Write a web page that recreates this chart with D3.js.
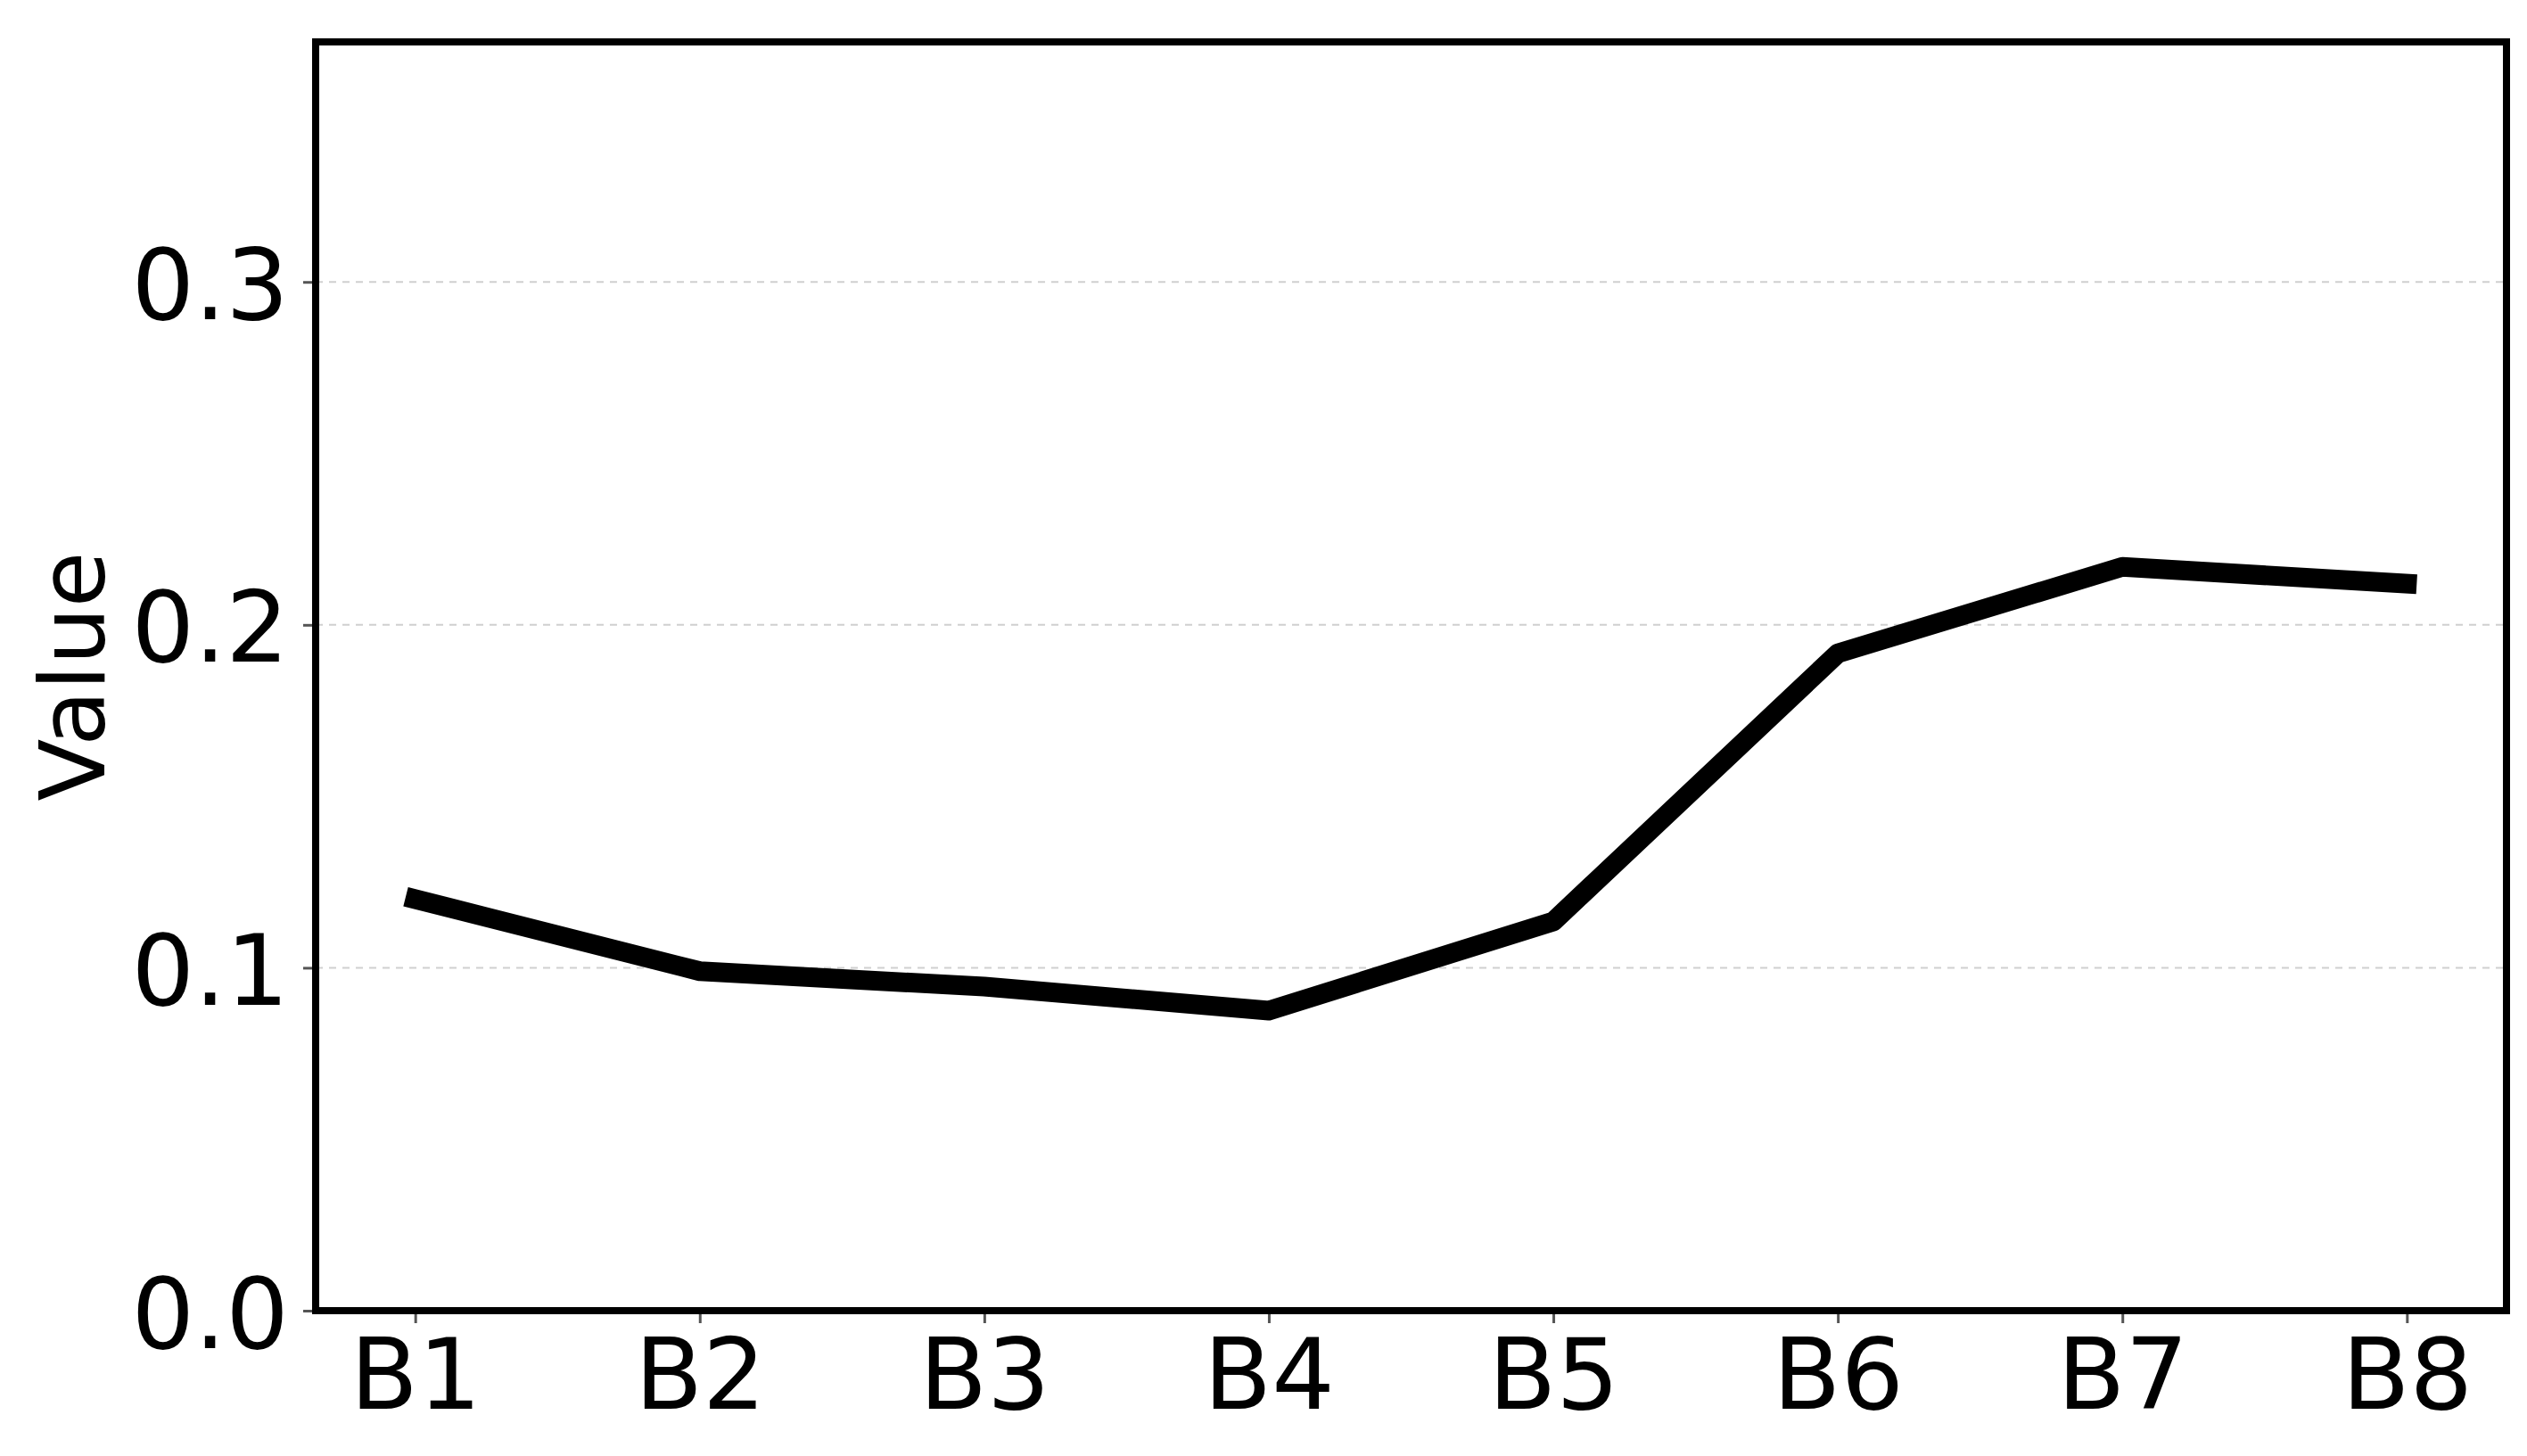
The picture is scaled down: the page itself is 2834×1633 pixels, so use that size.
<!DOCTYPE html>
<html>
<head>
<meta charset="utf-8">
<script src="https://cdn.jsdelivr.net/npm/d3@7"></script>
<style>
  html, body { margin: 0; padding: 0; background: #fff; }
  svg { display: block; }
  text { font-family: "DejaVu Sans", sans-serif; fill: #000; }
</style>
</head>
<body>
<script>
const categories = ["B1", "B2", "B3", "B4", "B5", "B6", "B7", "B8"];
const values = [0.120, 0.099, 0.0945, 0.0875, 0.1135, 0.1917, 0.2169, 0.212];
const yTicks = [0.0, 0.1, 0.2, 0.3];
const gridTicks = [0.1, 0.2, 0.3];
const yLabel = "Value";

const W = 2834, H = 1633;
const plotL = 354, plotR = 2811, plotT = 47, plotB = 1470;

const svg = d3.select("body").append("svg")
  .attr("width", W).attr("height", H);
svg.append("rect").attr("width", W).attr("height", H).attr("fill", "#fff");

const x = d3.scaleLinear().domain([-0.35, categories.length - 1 + 0.35]).range([plotL, plotR]);
const y = d3.scaleLinear().domain([0, 0.37]).range([plotB, plotT]);

// grid
svg.append("g").selectAll("line").data(gridTicks).join("line")
  .attr("x1", plotL).attr("x2", plotR)
  .attr("y1", d => y(d)).attr("y2", d => y(d))
  .attr("stroke", "#d0d0d0").attr("stroke-width", 2)
  .attr("stroke-dasharray", "8,7");

// line
const line = d3.line().x((d, i) => x(i)).y(d => y(d));
svg.append("path").datum(values)
  .attr("d", line)
  .attr("fill", "none")
  .attr("stroke", "#000")
  .attr("stroke-width", 22)
  .attr("stroke-linecap", "square")
  .attr("stroke-linejoin", "round");

// y axis
const yAxis = svg.append("g").attr("transform", `translate(${plotL},0)`)
  .call(d3.axisLeft(y).tickValues(yTicks).tickFormat(d3.format(".1f")).tickSize(14).tickPadding(16));
yAxis.select(".domain").remove();
yAxis.selectAll(".tick line").attr("stroke", "#555").attr("stroke-width", 3);
yAxis.selectAll(".tick text").attr("font-size", 111).attr("dy", "0.37em")
  .attr("fill", "#000")
  .style("font-family", "'DejaVu Sans', sans-serif");

// x axis
const xAxis = svg.append("g").attr("transform", `translate(0,${plotB})`)
  .call(d3.axisBottom(x).tickValues(d3.range(categories.length)).tickFormat(i => categories[i]).tickSize(14));
xAxis.select(".domain").remove();
xAxis.selectAll(".tick line").attr("stroke", "#555").attr("stroke-width", 3);
xAxis.selectAll(".tick text").attr("font-size", 111).attr("y", 110).attr("dy", "0")
  .attr("fill", "#000")
  .style("font-family", "'DejaVu Sans', sans-serif");

// frame
svg.append("rect")
  .attr("x", plotL).attr("y", plotT)
  .attr("width", plotR - plotL).attr("height", plotB - plotT)
  .attr("fill", "none").attr("stroke", "#000").attr("stroke-width", 8);

// y label
svg.append("text")
  .attr("transform", `translate(117,${(plotT + plotB) / 2}) rotate(-90)`)
  .attr("text-anchor", "middle")
  .attr("font-size", 102)
  .text(yLabel);
</script>
</body>
</html>
